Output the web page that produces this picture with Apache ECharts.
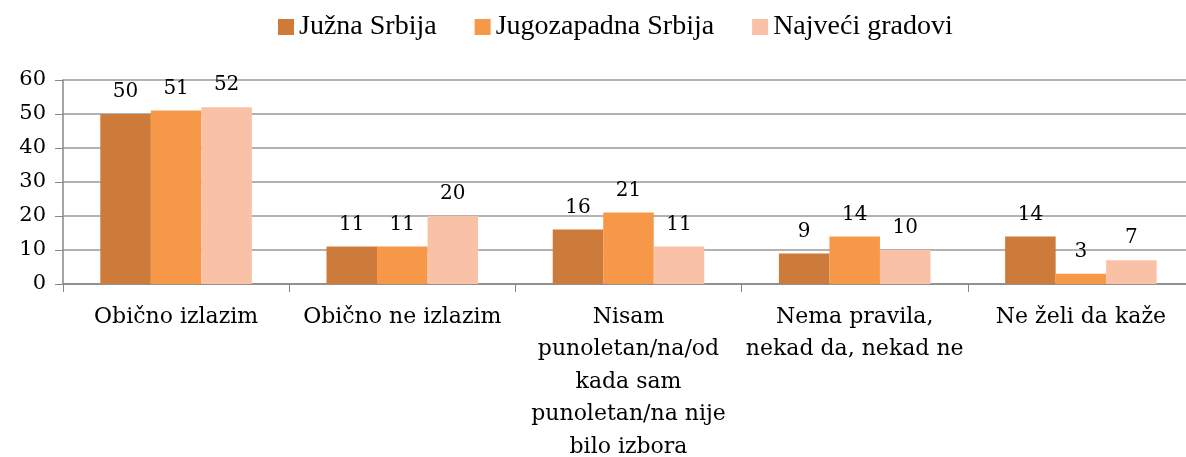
<!DOCTYPE html>
<html>
<head>
<meta charset="utf-8">
<script src="https://cdn.jsdelivr.net/npm/echarts@6/dist/echarts.min.js"></script>
<style>
html,body{margin:0;padding:0;background:#fff;}
#Charts{width:1186px;height:457px;}
</style>
</head>
<body>
<div id="Charts"></div>
<script>
var categories = ['Obično izlazim', 'Obično ne izlazim', 'Nisam\npunoletan/na/od\nkada sam\npunoletan/na nije\nbilo izbora', 'Nema pravila,\nnekad da, nekad ne', 'Ne želi da kaže'];
var seriesNames = ['Južna Srbija', 'Jugozapadna Srbija', 'Najveći gradovi'];
var juznaSrbija = [50, 11, 16, 9, 14];
var jugozapadnaSrbija = [51, 11, 21, 14, 3];
var najveciGradovi = [52, 20, 11, 10, 7];
var yTicks = [0, 10, 20, 30, 40, 50, 60];

var fontFam = '"DejaVu Serif", "Liberation Serif", serif';
var legendFam = '"Liberation Serif", serif';
var colors = ['#CC7B3A', '#F79848', '#F9C2A7'];

function makeSeries(name, data, color) {
	return {
		name: name,
		type: 'bar',
		data: data,
		barGap: '0%',
		barCategoryGap: '33%',
		itemStyle: { color: color },
		label: {
			show: true,
			position: 'top',
			distance: 12,
			color: '#000',
			fontFamily: fontFam,
			fontSize: 20
		}
	};
}

var option = {
	animation: false,
	color: colors,
	legend: {
		top: 8,
		left: 273,
		itemWidth: 16,
		itemHeight: 16,
		itemGap: 38,
		icon: 'rect',
		textStyle: { fontFamily: legendFam, fontSize: 28, color: '#000' },
		data: seriesNames
	},
	grid: {
		left: 63,
		right: -8,
		top: 80,
		bottom: 173,
		outerBoundsMode: 'none',
		containLabel: false
	},
	xAxis: [{
		type: 'category',
		data: categories,
		axisLine: { lineStyle: { color: '#878787', width: 1.5 } },
		axisTick: { show: true, length: 8, lineStyle: { color: '#878787' } },
		axisLabel: {
			interval: 0,
			margin: 17,
			color: '#000',
			fontFamily: fontFam,
			fontSize: 22,
			lineHeight: 32.5
		}
	}],
	yAxis: [{
		type: 'value',
		min: 0,
		max: 60,
		interval: 10,
		axisLine: { show: true, lineStyle: { color: '#878787', width: 1.5 } },
		axisTick: { show: true, length: 8, lineStyle: { color: '#878787' } },
		splitLine: { show: true, lineStyle: { color: '#9a9a9a', width: 1.5 } },
		axisLabel: {
			margin: 17,
			color: '#000',
			fontFamily: fontFam,
			fontSize: 21,
			formatter: function (v) { return yTicks.indexOf(v) >= 0 ? String(v) : ''; }
		}
	}],
	series: [
		makeSeries(seriesNames[0], juznaSrbija, colors[0]),
		makeSeries(seriesNames[1], jugozapadnaSrbija, colors[1]),
		makeSeries(seriesNames[2], najveciGradovi, colors[2])
	]
};

var myChart = echarts.init(document.getElementById('Charts'));
myChart.setOption(option);
</script>
</body>
</html>
